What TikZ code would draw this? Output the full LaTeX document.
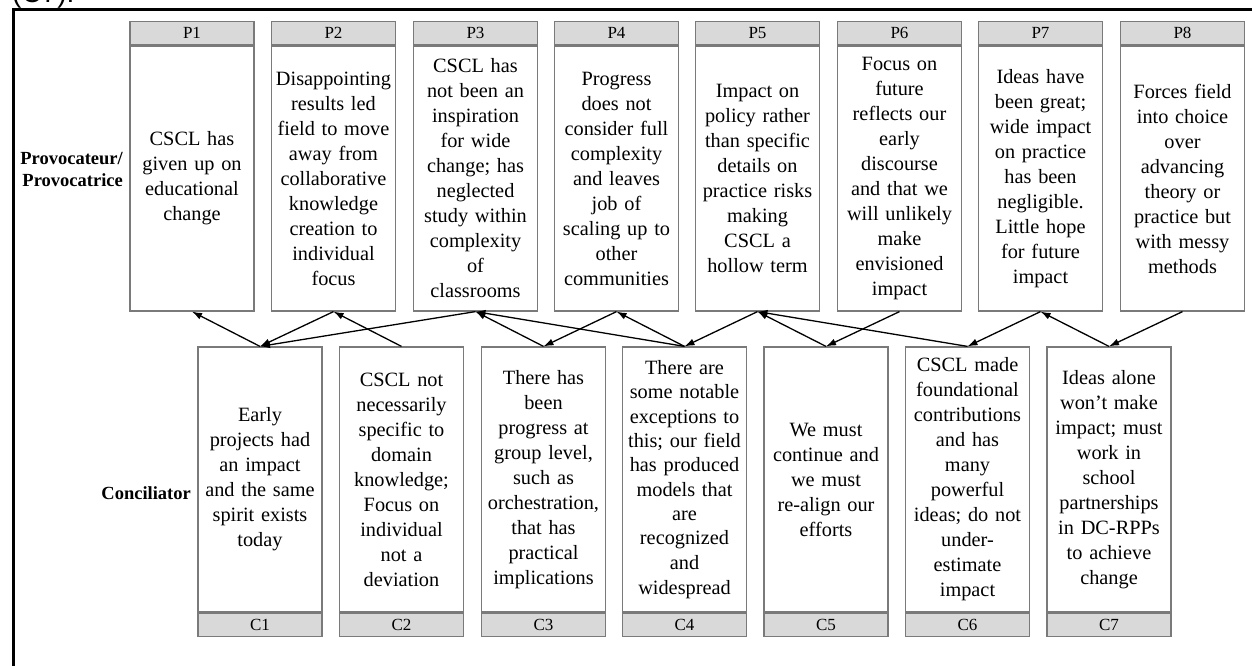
\documentclass[tikz,border=0pt]{standalone}
\usepackage{fontspec}
\setmainfont{Liberation Serif}
\newfontfamily\capfont{Liberation Sans}
\usetikzlibrary{arrows.meta}
\definecolor{boxgray}{HTML}{7A7A7A}
\definecolor{headgray}{HTML}{D9D9D9}
\tikzset{
  body/.style={draw=boxgray, line width=1.2pt, fill=white, minimum width=124pt,
    minimum height=265pt, text width=122pt, align=center, inner sep=0pt,
    font=\fontsize{20.3}{25}\selectfont},
  head/.style={draw=boxgray, line width=1.2pt, fill=headgray, minimum width=124pt,
    minimum height=23.5pt, inner sep=0pt, font=\fontsize{17}{18}\selectfont},
  link/.style={-{Latex[length=10pt,width=7pt]}, line width=1.3pt, black},
  sidelabel/.style={font=\bfseries\fontsize{18.5}{22}\selectfont, align=right, inner sep=0pt}
}
\begin{document}
\begin{tikzpicture}[x=1pt,y=-1pt]
\useasboundingbox (0,0) rectangle (1252,666);
\clip (0,0) rectangle (1252,666);
\node[font=\capfont\fontsize{28}{30}\selectfont, anchor=base west, inner sep=0pt] (cap) at (12,3) {(C7).};
\draw[line width=3pt] (13,9.5) rectangle (1275,690);

% side labels
\node[sidelabel, anchor=east] (provlabel) at (123,169) {Provocateur/\\Provocatrice};
\node[sidelabel, anchor=east] (conclabel) at (191,493) {Conciliator};

% provocateur boxes
\node[body] (P1) at (192,178.5) {CSCL has\\given up on\\educational\\change};
\node[body] (P2) at (333.5,178.5) {Disappointing\\results led\\field to move\\away from\\collaborative\\knowledge\\creation to\\individual\\focus};
\node[body] (P3) at (475.5,178.5) {CSCL has\\not been an\\inspiration\\for wide\\change; has\\neglected\\study within\\complexity\\of\\classrooms};
\node[body] (P4) at (616.5,178.5) {Progress\\does not\\consider full\\complexity\\and leaves\\job of\\scaling up to\\other\\communities};
\node[body] (P5) at (757.5,178.5) {Impact on\\policy rather\\than specific\\details on\\practice risks\\making\\CSCL a\\hollow term};
\node[body] (P6) at (899.5,178.5) {Focus on\\future\\reflects our\\early\\discourse\\and that we\\will unlikely\\make\\envisioned\\impact};
\node[body] (P7) at (1040.5,178.5) {Ideas have\\been great;\\wide impact\\on practice\\has been\\negligible.\\Little hope\\for future\\impact};
\node[body] (P8) at (1182.5,178.5) {Forces field\\into choice\\over\\advancing\\theory or\\practice but\\with messy\\methods};
\foreach \i in {1,...,8} {
  \node[head, anchor=south] (P\i h) at (P\i.north) {P\i};
}

% conciliator boxes
\node[body] (C1) at (260,479.5) {Early\\projects had\\an impact\\and the same\\spirit exists\\today};
\node[body] (C2) at (401.5,479.5) {CSCL not\\necessarily\\specific to\\domain\\knowledge;\\Focus on\\individual\\not a\\deviation};
\node[body] (C3) at (543.5,479.5) {There has\\been\\progress at\\group level,\\such as\\orchestration,\\that has\\practical\\implications};
\node[body] (C4) at (684.5,479.5) {\fontsize{20.3}{24.3}\selectfont There are\\some notable\\exceptions to\\this; our field\\has produced\\models that\\are\\recognized\\and\\widespread};
\node[body] (C5) at (826,479.5) {We must\\continue and\\we must\\re-align our\\efforts};
\node[body] (C6) at (967.5,479.5) {CSCL made\\foundational\\contributions\\and has\\many\\powerful\\ideas; do not\\under-\\estimate\\impact};
\node[body] (C7) at (1109,479.5) {Ideas alone\\won’t make\\impact; must\\work in\\school\\partnerships\\in DC-RPPs\\to achieve\\change};
\foreach \i in {1,...,7} {
  \node[head, anchor=north] (C\i h) at (C\i.south) {C\i};
}

% connectors
\draw[link] (C1.north) -- (P1.south);
\draw[link] (P2.south) -- (C1.north);
\draw[link] (P3.south) -- (C1.north);
\draw[link] (C2.north) -- (P2.south);
\draw[link] (C3.north) -- (P3.south);
\draw[link] (C4.north) -- (P3.south);
\draw[link] (P4.south) -- (C3.north);
\draw[link] (C4.north) -- (P4.south);
\draw[link] (P5.south) -- (C4.north);
\draw[link] (C5.north) -- (P5.south);
\draw[link] (C6.north) -- (P5.south);
\draw[link] (P6.south) -- (C5.north);
\draw[link] (P7.south) -- (C6.north);
\draw[link] (C7.north) -- (P7.south);
\draw[link] (P8.south) -- (C7.north);
\end{tikzpicture}
\end{document}
